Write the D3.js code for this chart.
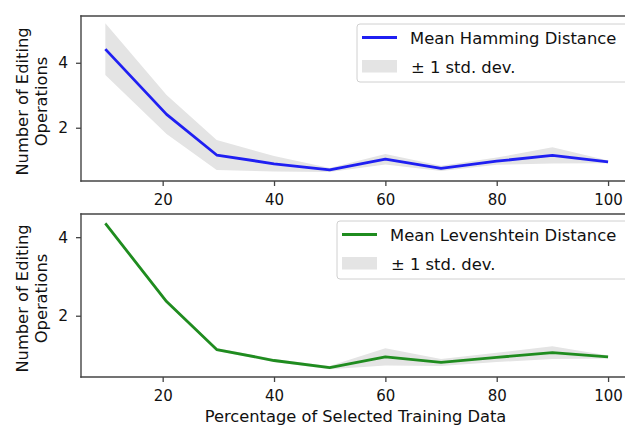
<!DOCTYPE html>
<html>
<head>
<meta charset="utf-8">
<script src="https://cdn.jsdelivr.net/npm/d3@7/dist/d3.min.js"></script>
<style>
  html, body { margin: 0; padding: 0; background: #fff; }
  svg { display: block; font-family: "DejaVu Sans", sans-serif; }
</style>
</head>
<body>
<svg id="chart" width="625" height="427"></svg>
<script>
// Percentage of selected training data (x positions of the measurements)
const percentages = [9.7, 20.7, 29.7, 40, 50, 60, 70, 80, 90, 100];

// Mean Hamming distance and its standard deviation
const hammingMean = [4.42, 2.41, 1.16, 0.89, 0.70, 1.03, 0.75, 0.97, 1.15, 0.95];
const hammingStd  = [0.80, 0.60, 0.46, 0.24, 0.06, 0.16, 0.08, 0.11, 0.25, 0.04];

// Mean Levenshtein distance and its standard deviation
const levenshteinMean = [4.35, 2.36, 1.14, 0.86, 0.68, 0.95, 0.81, 0.94, 1.06, 0.95];
const levenshteinStd  = [0.04, 0.04, 0.04, 0.04, 0.04, 0.22, 0.09, 0.12, 0.16, 0.04];

const xTicks = [20, 40, 60, 80, 100];
const yTicks = [2, 4];
const xLabel = "Percentage of Selected Training Data";
const yLabelLines = ["Number of Editing", "Operations"];
const stdLabel = "\u00b1 1 std. dev.";

const svg = d3.select("#chart");
const FONT = "DejaVu Sans, sans-serif";
const INK = "#111";

const left = 81, right = 627;
const x = d3.scaleLinear().domain([5.33, 103.4]).range([left, right]);

const panels = [
  {
    top: 16, bottom: 181, yDomain: [0.36, 5.44],
    mean: hammingMean, std: hammingStd,
    color: "#1f1ff2", name: "Mean Hamming Distance",
    legend: { x: 357, y: 24, w: 280, h: 58 }
  },
  {
    top: 214, bottom: 377, yDomain: [0.44, 4.59],
    mean: levenshteinMean, std: levenshteinStd,
    color: "#1f8c1f", name: "Mean Levenshtein Distance",
    legend: { x: 337, y: 221, w: 300, h: 58 }
  }
];

panels.forEach((p, idx) => {
  const y = d3.scaleLinear().domain(p.yDomain).range([p.bottom, p.top]);
  const g = svg.append("g");

  const rows = percentages.map((v, i) => ({ x: v, m: p.mean[i], s: p.std[i] }));

  // keep the band and the line inside the axes
  const clipId = "clip" + idx;
  svg.append("clipPath").attr("id", clipId)
    .append("rect").attr("x", left).attr("y", p.top)
    .attr("width", right - left).attr("height", p.bottom - p.top);

  const plot = g.append("g").attr("clip-path", `url(#${clipId})`);

  // ±1 std band
  plot.append("path")
    .datum(rows)
    .attr("fill", "#e4e4e4")
    .attr("d", d3.area()
      .x(d => x(d.x))
      .y0(d => y(d.m - d.s))
      .y1(d => y(d.m + d.s)));

  // mean line
  plot.append("path")
    .datum(rows)
    .attr("fill", "none")
    .attr("stroke", p.color)
    .attr("stroke-width", 2.8)
    .attr("stroke-linejoin", "round")
    .attr("d", d3.line().x(d => x(d.x)).y(d => y(d.m)));

  // spines
  [[left, p.top, right, p.top], [left, p.bottom, right, p.bottom],
   [left, p.top, left, p.bottom], [right, p.top, right, p.bottom]].forEach(s => {
    g.append("line").attr("x1", s[0]).attr("y1", s[1]).attr("x2", s[2]).attr("y2", s[3])
      .attr("stroke", "#444").attr("stroke-width", 1.4)
      .attr("stroke-linecap", "square");
  });

  // x axis
  const xAxis = g.append("g")
    .attr("transform", `translate(0,${p.bottom})`)
    .call(d3.axisBottom(x).tickValues(xTicks).tickSize(5).tickPadding(8).tickFormat(d3.format("d")));
  xAxis.select(".domain").remove();
  xAxis.selectAll(".tick line").attr("stroke", "#444").attr("stroke-width", 1.3);
  xAxis.selectAll(".tick text").attr("font-size", 15).attr("fill", INK)
    .attr("font-family", FONT);

  // y axis
  const yAxis = g.append("g")
    .attr("transform", `translate(${left},0)`)
    .call(d3.axisLeft(y).tickValues(yTicks).tickSize(5).tickPadding(8).tickFormat(d3.format("d")));
  yAxis.select(".domain").remove();
  yAxis.selectAll(".tick line").attr("stroke", "#444").attr("stroke-width", 1.3);
  yAxis.selectAll(".tick text").attr("font-size", 15.5).attr("fill", INK)
    .attr("font-family", FONT);

  // y label (two lines)
  const cy = (p.top + p.bottom) / 2 + 3;
  const yl = g.append("text")
    .attr("transform", `translate(28,${cy}) rotate(-90)`)
    .attr("text-anchor", "middle")
    .attr("font-size", 16.3)
    .attr("fill", INK);
  yl.append("tspan").attr("x", 0).attr("y", 0).text(yLabelLines[0]);
  yl.append("tspan").attr("x", 0).attr("y", 18.5).text(yLabelLines[1]);

  // legend
  const L = p.legend;
  const lg = g.append("g");
  lg.append("rect")
    .attr("x", L.x).attr("y", L.y).attr("width", L.w).attr("height", L.h)
    .attr("rx", 3).attr("fill", "#fff").attr("fill-opacity", 0.9)
    .attr("stroke", "#d0d0d0").attr("stroke-width", 1);
  lg.append("line")
    .attr("x1", L.x + 5).attr("x2", L.x + 40)
    .attr("y1", L.y + 13.5).attr("y2", L.y + 13.5)
    .attr("stroke", p.color).attr("stroke-width", 2.8);
  lg.append("text")
    .attr("x", L.x + 53).attr("y", L.y + 20)
    .attr("font-size", 16.4).attr("fill", INK)
    .text(p.name);
  lg.append("rect")
    .attr("x", L.x + 5).attr("y", L.y + 36).attr("width", 35).attr("height", 12.5)
    .attr("fill", "#e4e4e4");
  lg.append("text")
    .attr("x", L.x + 54).attr("y", L.y + 49)
    .attr("font-size", 16.4).attr("fill", INK)
    .text(stdLabel);
});

// shared x label
svg.append("text")
  .attr("x", 355.5)
  .attr("y", 422)
  .attr("text-anchor", "middle")
  .attr("font-size", 16.3)
  .attr("fill", INK)
  .text(xLabel);
</script>
</body>
</html>
